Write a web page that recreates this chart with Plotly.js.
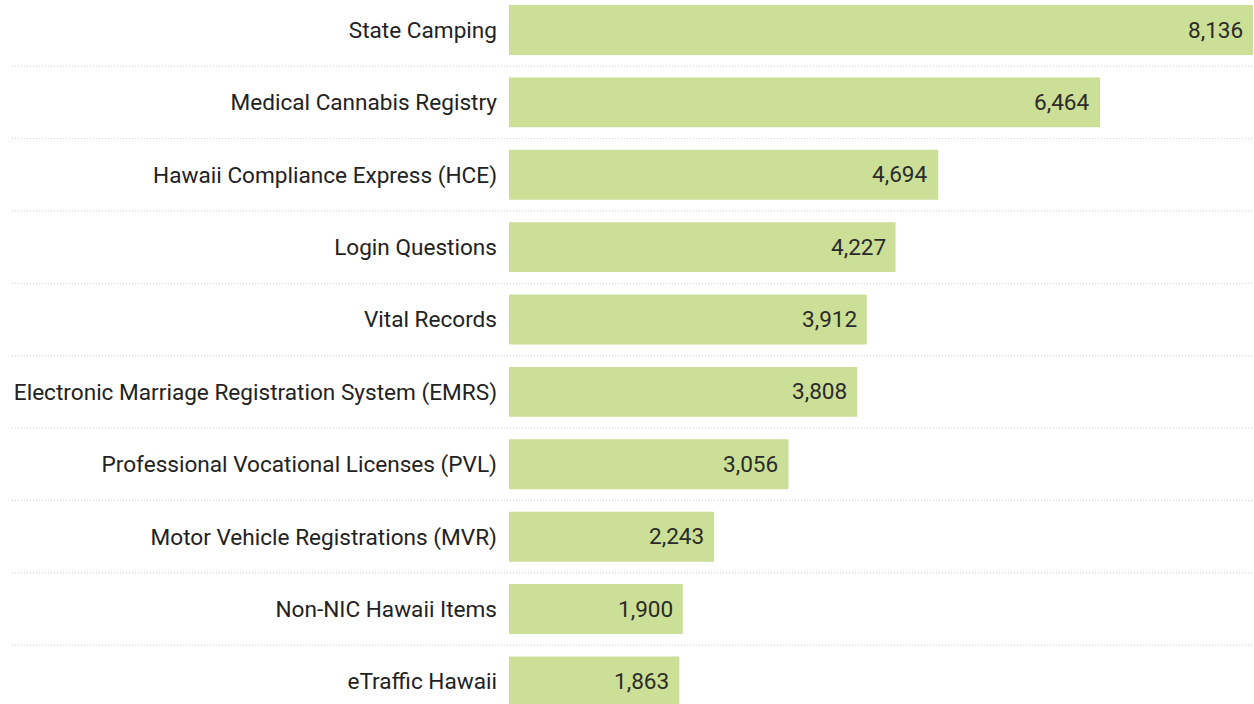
<!DOCTYPE html>
<html><head><meta charset="utf-8">
<script src="https://cdn.plot.ly/plotly-3.0.1.min.js"></script>
<style>html,body{margin:0;padding:0;background:#fff;}#chart{width:1254px;height:704px;}</style>
</head><body><div id="chart"></div>
<script>
const categories = [
  "State Camping",
  "Medical Cannabis Registry",
  "Hawaii Compliance Express (HCE)",
  "Login Questions",
  "Vital Records",
  "Electronic Marriage Registration System (EMRS)",
  "Professional Vocational Licenses (PVL)",
  "Motor Vehicle Registrations (MVR)",
  "Non-NIC Hawaii Items",
  "eTraffic Hawaii"
];
const values = [8136, 6464, 4694, 4227, 3912, 3808, 3056, 2243, 1900, 1863];

const W = 1254, H = 704, ML = 509, MR = 1;
const plotW = W - ML - MR;
const gridStartPx = 12;

const shapes = [];
for (let i = 0; i < categories.length - 1; i++) {
  shapes.push({
    type: 'line', layer: 'below',
    xref: 'paper', yref: 'y',
    x0: (gridStartPx - ML) / plotW, x1: 1,
    y0: i + 0.5, y1: i + 0.5,
    line: {color: '#cfcfcf', width: 1, dash: '1px,2px'}
  });
}

const annotations = categories.map((c, i) => ({
  x: values[i], y: c, xref: 'x', yref: 'y',
  text: values[i].toLocaleString('en-US'),
  showarrow: false, xanchor: 'right', xshift: -8,
  font: {family: 'Roboto, sans-serif', size: 22.6, color: '#2b2b2b'}
}));

const trace = {
  type: 'bar', orientation: 'h',
  x: values, y: categories,
  marker: {color: '#cbdf96', line: {width: 0}},
  width: 0.69,
  hoverinfo: 'none'
};

const layout = {
  width: W, height: H,
  margin: {l: ML, r: MR, t: 0, b: 0, pad: 0},
  paper_bgcolor: '#fff', plot_bgcolor: '#fff',
  showlegend: false,
  xaxis: {range: [0, 8136], showgrid: false, zeroline: false, showticklabels: false, ticks: '', showline: false, fixedrange: true},
  yaxis: {
    type: 'category', range: [9.312, -0.4145],
    showgrid: false, zeroline: false, showline: false, ticks: '',
    ticklabelstandoff: 11,
    tickfont: {family: 'Roboto, sans-serif', size: 22.6, color: '#222'},
    fixedrange: true
  },
  shapes: shapes,
  annotations: annotations
};

Plotly.newPlot('chart', [trace], layout, {displayModeBar: false, staticPlot: true});
</script>
</body></html>
